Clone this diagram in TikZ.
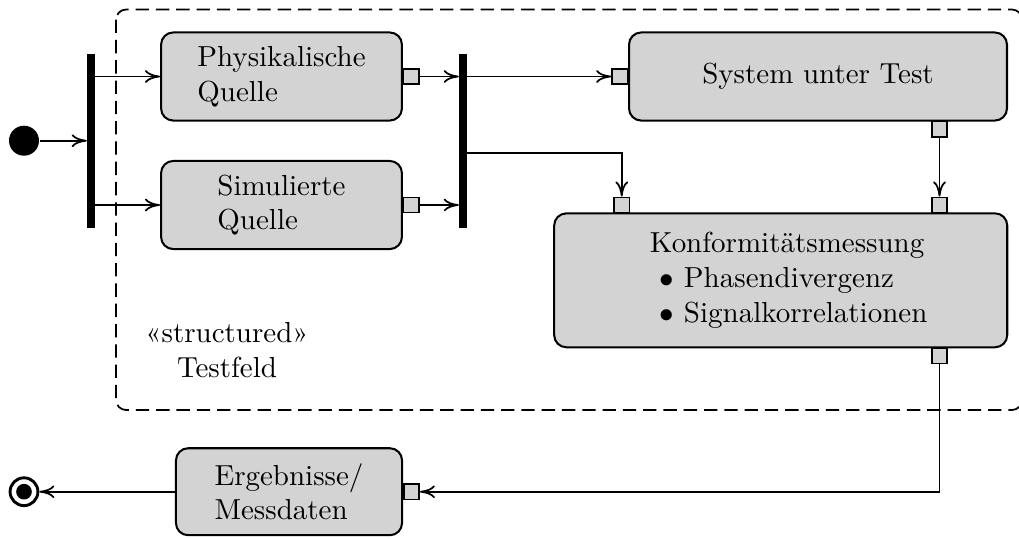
\documentclass[tikz,border=0pt]{standalone}
\usepackage{fontspec}
\usetikzlibrary{arrows.meta}
\definecolor{boxgray}{RGB}{211,211,211}
\tikzset{
  act/.style={draw, line width=0.7pt, fill=boxgray, rounded corners=4.2pt, inner sep=0pt, align=left},
  pin/.style={draw, line width=0.5pt, fill=boxgray, minimum size=5.3pt, inner sep=0pt},
  bar/.style={fill=black, draw=none, minimum width=2.5pt, minimum height=60pt, inner sep=0pt},
  arr/.style={line width=0.6pt, -{To[length=5.2pt,width=4.4pt]}},
  frame/.style={line width=0.6pt, dash pattern=on 4.6pt off 2.4pt, rounded corners=3.5pt},
}
\begin{document}
\begin{tikzpicture}[x=0.345pt, y=-0.345pt]
\useasboundingbox (0,0) rectangle (1019,538);
\draw[frame] (116,9.5) rectangle (1022,410);

\node[fill=black, circle, minimum size=10.35pt, inner sep=0pt] (init) at (24,140.7) {};
\node[bar] (bar1) at (91,140.7) {};
\node[bar] (bar2) at (463,140.7) {};

\node[act, minimum width=83.1pt, minimum height=30.4pt] (phys) at (281.5,76.5) {Physikalische\\Quelle};
\node[act, minimum width=83.1pt, minimum height=30.4pt] (sim) at (281.5,205) {Simulierte\\Quelle};
\node[act, minimum width=130.4pt, minimum height=30.4pt] (sut) at (818,76.5) {System unter Test};
\node[act, minimum width=156.3pt, minimum height=46.2pt] (konf) at (780.7,280.3)
  {\hspace*{5.5pt}Konformitätsmessung\\\hspace*{8.9pt}$\bullet$ Phasendivergenz\\\hspace*{8.9pt}$\bullet$ Signalkorrelationen};
\node[act, minimum width=78pt, minimum height=30pt] (erg) at (289,491.7) {Ergebnisse/\\Messdaten};

\node[align=center] (tf) at (227,350) {«structured»\\Testfeld};

\node[pin, anchor=west] (p1) at (phys.east) {};
\node[pin, anchor=west] (p2) at (sim.east) {};
\node[pin, anchor=east] (p3) at (sut.west) {};
\node[pin, anchor=north] (p4) at (939.5,120.7) {};
\node[pin, anchor=south] (p5) at (621.7,213.3) {};
\node[pin, anchor=south] (p6) at (939.5,213.3) {};
\node[pin, anchor=north] (p7) at (939.5,347.3) {};
\node[pin, anchor=west] (p8) at (erg.east) {};

\node[circle, draw, line width=1pt, minimum size=9.6pt, inner sep=0pt,
  path picture={\fill (path picture bounding box.center) circle (2.7pt);}] (final) at (24,491.7) {};

\draw[arr] (init) -- (init -| bar1.west);
\draw[arr] (phys.west -| bar1.east) -- (phys.west);
\draw[arr] (sim.west -| bar1.east) -- (sim.west);
\draw[arr] (p1.east) -- (p1.east -| bar2.west);
\draw[arr] (p2.east) -- (p2.east -| bar2.west);
\draw[arr] (p3.west -| bar2.east) -- (p3.west);
\draw[arr] ([yshift=-4.2pt]bar2.east) -| (p5.north);
\draw[arr] (p4.south) -- (p6.north);
\draw[arr] (p7.south) |- (p8.east);
\draw[arr] (erg.west) -- (final);
\end{tikzpicture}
\end{document}
